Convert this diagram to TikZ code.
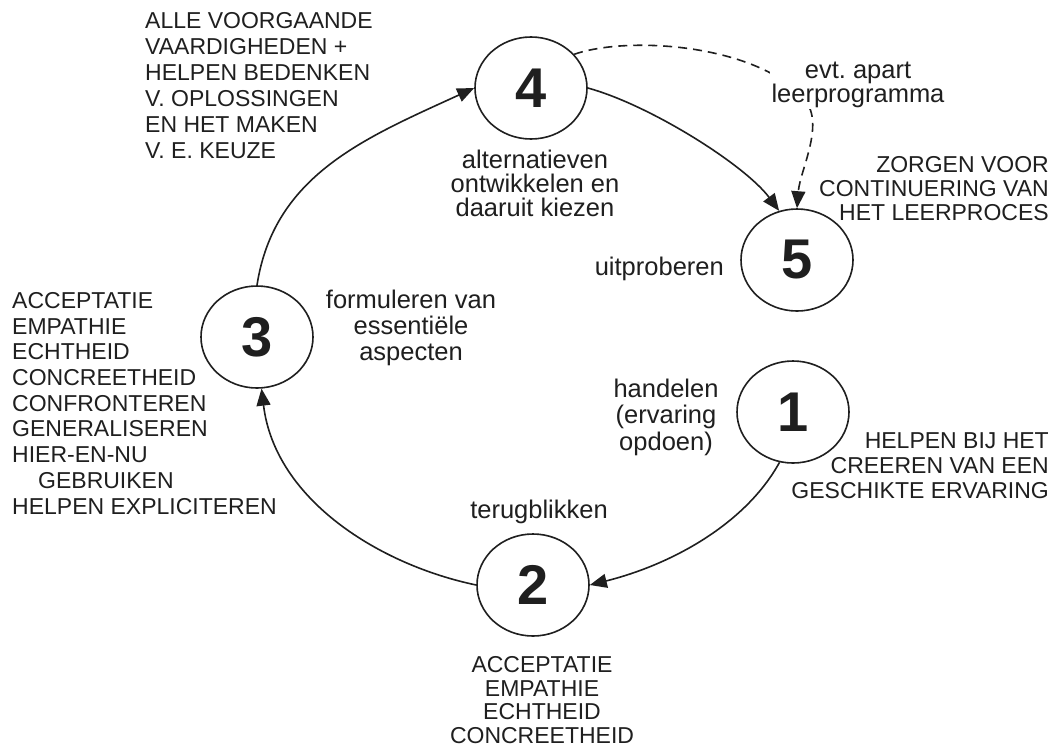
\documentclass[tikz,border=0pt]{standalone}
\usepackage{fontspec}
\setmainfont{Liberation Sans}
\usetikzlibrary{arrows.meta,shapes.geometric}
\begin{document}
\begin{tikzpicture}[x=1pt,y=-1pt,
  stage/.style={draw=black!88, text=black!88, line width=1.6pt, ellipse, minimum width=112pt, minimum height=102pt, inner sep=0pt, font=\fontsize{56}{56}\selectfont\bfseries},
  capstxt/.style={inner sep=0pt, text=black!88, font=\fontsize{23}{#1}\selectfont},
  capstxt/.default=25.5,
  lowtxt/.style={inner sep=0pt, text=black!88, font=\fontsize{25.5}{#1}\selectfont},
  lowtxt/.default=24.5,
  flow/.style={draw=black!88, line width=1.6pt, -{Triangle[length=17pt,width=14pt]}},
  flowd/.style={flow, dash pattern=on 9pt off 6pt}
]
\useasboundingbox[fill=white] (0,0) rectangle (1057,753);

% stages
\node[stage] (c4) at (531,88) {4};
\node[stage] (c5) at (797,260) {5};
\node[stage] (c1) at (793,412) {1};
\node[stage] (c2) at (533,585) {2};
\node[stage] (c3) at (257,337) {3};

% cycle connectors
\draw[flow] (c3.north) .. controls (274,175) and (365,138) .. (c4.west);
\draw[flow] (c4.east) .. controls (650,105) and (745,165) .. (c5.110);
\draw[flow] (c1.-105) .. controls (745,525) and (670,565) .. (c2.east);
\draw[flow] (c2.west) .. controls (380,565) and (275,500) .. (c3.-85);

% optional dashed path
\coordinate (dmid) at (805,100);
\draw[flowd] (c4.38) .. controls (630,35) and (760,45) .. (dmid) .. controls (825,125) and (800,170) .. (c5.north);
\node[lowtxt=24, align=center, anchor=base, fill=white, inner sep=2pt] (lbl) at (858,102) {evt.\ apart\\leerprogramma};

% activity labels (anchor base = baseline of last line)
\node[lowtxt=24, align=center, anchor=base] (a4) at (535,216) {alternatieven\\ontwikkelen en\\daaruit kiezen};
\node[lowtxt, anchor=base east] (a5) at (724,275) {uitproberen};
\node[lowtxt=26.5, align=center, anchor=base] (a1) at (666,450) {handelen\\(ervaring\\opdoen)};
\node[lowtxt, anchor=base] (a2) at (539,518) {terugblikken};
\node[lowtxt=26, align=center, anchor=base] (a3) at (411,360) {formuleren van\\essentiële\\aspecten};

% skill lists
\node[capstxt=26, align=left, anchor=base west] (t4) at (145,158) {ALLE VOORGAANDE\\VAARDIGHEDEN +\\HELPEN BEDENKEN\\V. OPLOSSINGEN\\EN HET MAKEN\\V. E. KEUZE};
\node[capstxt=25.7, align=left, anchor=base west] (t3) at (12,514) {ACCEPTATIE\\EMPATHIE\\ECHTHEID\\CONCREETHEID\\CONFRONTEREN\\GENERALISEREN\\HIER-EN-NU\\\hspace*{26pt}GEBRUIKEN\\HELPEN EXPLICITEREN};
\node[capstxt=24, align=right, anchor=base east] (t5) at (1049,220) {ZORGEN VOOR\\CONTINUERING VAN\\HET LEERPROCES};
\node[capstxt=25, align=right, anchor=base east] (t1) at (1049,498) {HELPEN BIJ HET\\CREEREN VAN EEN\\GESCHIKTE ERVARING};
\node[capstxt=23.5, align=center, anchor=base] (t2) at (542,743) {ACCEPTATIE\\EMPATHIE\\ECHTHEID\\CONCREETHEID};
\end{tikzpicture}
\end{document}
